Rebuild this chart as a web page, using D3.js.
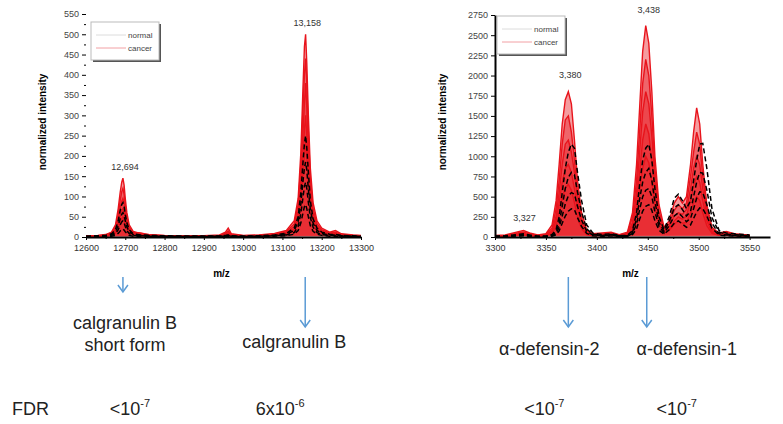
<!DOCTYPE html>
<html>
<head>
<meta charset="utf-8">
<script src="https://cdnjs.cloudflare.com/ajax/libs/d3/7.8.5/d3.min.js"></script>
<style>
	body { margin: 0; background: #fff; }
	text { font-family: "Liberation Sans", Arial, sans-serif; }
</style>
</head>
<body>
<div id="v1"></div>
<script>
// ---- left panel : calgranulin B region ----
var mzLeft = [12600,12630,12650,12665,12675,12682,12687,12691,12694,12697,12700,12704,12710,12720,12740,12760,12800,12850,12900,12940,12955,12962,12970,13000,13040,13080,13110,13130,13140,13147,13152,13156,13159,13162,13166,13171,13178,13188,13200,13220,13235,13250,13280,13300];
var cancerLeft = [
	[3,4,6,12,30,70,110,135,145,128,95,60,30,14,8,6,4,3,3,5,12,22,8,4,5,9,16,40,95,210,360,470,500,430,300,170,85,40,22,12,16,8,5,4],
	[2,3,5,10,24,55,90,112,120,105,78,48,24,11,10,5,3,3,2,4,9,15,6,3,4,7,13,32,80,180,310,400,440,380,260,145,70,33,18,10,12,6,4,3],
	[2,3,4,8,18,42,70,88,95,84,62,38,19,9,6,4,3,2,2,3,7,11,5,3,3,6,11,26,62,150,250,330,380,320,220,120,58,27,15,8,10,5,3,2],
	[1,2,3,6,13,30,52,65,70,62,46,28,14,7,5,3,2,2,2,3,5,8,4,2,3,5,9,20,48,115,200,265,300,250,170,95,45,21,12,7,8,4,2,2],
	[1,2,2,4,9,20,35,45,50,44,32,20,10,5,3,2,2,1,1,2,4,6,3,2,2,4,7,15,35,85,150,200,240,200,130,70,34,16,9,5,6,3,2,1]
];
var normalLeft = [
	[2,3,4,8,18,40,65,80,85,75,55,35,18,8,5,4,3,2,2,3,4,5,3,2,3,5,9,22,50,110,180,230,250,220,160,90,45,22,12,7,6,4,3,2],
	[1,2,3,6,12,28,45,56,60,52,40,25,13,6,4,3,2,2,2,2,3,4,2,2,2,4,7,16,38,82,135,170,185,165,118,68,34,16,9,5,5,3,2,1],
	[1,1,2,4,8,18,30,37,40,35,26,16,8,4,3,2,2,1,1,2,2,3,2,1,2,3,5,11,26,58,95,125,135,120,85,48,24,11,6,4,3,2,1,1],
	[0,1,1,2,4,9,15,18,20,17,13,8,4,2,2,1,1,1,1,1,1,2,1,1,1,2,3,7,16,35,58,75,80,70,50,28,14,7,4,2,2,1,1,0]
];
var xTicksLeft = [12600,12700,12800,12900,13000,13100,13200,13300];
var yTicksLeft = [0,50,100,150,200,250,300,350,400,450,500,550];
var peaksLeft = [{mz: 12694, y: 150, label: "12,694"}, {mz: 13158, y: 505, label: "13,158"}];

// ---- right panel : alpha-defensin region ----
var mzRight = [3300,3310,3318,3324,3328,3334,3342,3350,3356,3360,3363,3366,3369,3372,3375,3378,3381,3385,3390,3396,3405,3414,3422,3430,3435,3439,3442,3445,3448,3451,3454,3457,3461,3466,3471,3476,3480,3484,3488,3492,3495,3498,3501,3504,3508,3513,3520,3527,3535,3545,3550];
var cancerRight = [
	[20,25,50,70,80,50,25,40,150,450,900,1400,1700,1800,1650,1200,700,300,90,40,50,60,30,60,300,900,1600,2300,2620,2400,1800,1000,400,120,200,420,500,420,500,900,1300,1600,1400,900,400,120,50,70,40,30,25],
	[15,20,35,55,60,40,20,30,110,350,700,1150,1450,1500,1300,950,550,230,70,35,40,45,25,45,250,700,1300,1900,2200,2000,1500,850,320,100,160,330,400,350,420,750,1050,1300,1150,750,330,100,40,55,30,25,20],
	[10,15,30,40,45,30,15,25,80,260,550,900,1150,1200,1050,800,450,180,55,25,30,35,20,35,180,550,1050,1550,1800,1650,1250,700,260,80,130,260,300,280,340,600,850,1000,900,600,260,80,30,40,25,20,15],
	[8,10,20,30,35,20,10,20,60,200,420,680,850,900,800,600,350,140,45,20,25,30,15,30,140,420,800,1200,1400,1280,950,540,200,60,100,200,250,220,260,450,640,750,680,450,200,60,25,30,20,15,10],
	[5,8,15,20,25,15,8,15,45,140,300,480,610,650,580,430,250,100,30,15,20,20,10,20,100,300,580,850,1000,920,680,380,150,45,80,160,200,170,180,300,430,500,450,300,140,45,20,25,15,10,8]
];
var normalRight = [
	[10,15,25,35,40,25,10,10,30,90,250,550,850,1050,1150,1100,800,450,150,50,30,40,20,20,80,300,650,950,1100,1150,950,600,250,90,250,480,530,450,350,450,700,950,1150,1160,850,350,80,50,40,30,25],
	[8,10,20,25,30,20,8,8,20,60,170,380,600,740,800,770,560,310,100,35,20,30,15,15,60,220,470,680,800,850,700,440,180,70,190,360,400,340,260,320,500,680,800,790,580,240,60,35,30,20,18],
	[5,8,15,18,20,12,5,5,15,40,120,260,410,510,550,530,380,210,70,25,15,20,10,10,45,160,340,500,580,600,500,310,130,50,140,260,300,250,190,230,350,480,560,550,400,170,40,25,20,15,12],
	[3,5,10,12,15,8,3,3,10,25,75,170,260,320,350,340,240,130,45,15,10,12,8,8,30,100,220,320,380,400,330,200,85,35,90,170,200,160,120,150,230,310,360,350,260,110,25,15,12,10,8]
];
var xTicksRight = [3300,3350,3400,3450,3500,3550];
var yTicksRight = [0,250,500,750,1000,1250,1500,1750,2000,2250,2500,2750];
var peaksRight = [{mz: 3327, y: 120, label: "3,327"}, {mz: 3372, y: 1890, label: "3,380"}, {mz: 3449, y: 2700, label: "3,438"}];

// ---- annotations under the spectra ----
var proteins = [
	{panel: "L", mz: 12694, lines: ["calgranulin B", "short form"], fdr: "<10", exp: "-7"},
	{panel: "L", mz: 13158, lines: ["calgranulin B"], fdr: "6x10", exp: "-6"},
	{panel: "R", mz: 3372, lines: ["\u03b1-defensin-2"], fdr: "<10", exp: "-7"},
	{panel: "R", mz: 3449, lines: ["\u03b1-defensin-1"], fdr: "<10", exp: "-7"}
];
// layout only: where each arrow stops and how far name / FDR sit from the arrow
var arrowEnds = [292, 327, 327, 327];
var nameShift = [2, -11, -19, 40];
var fdrShift = [7, -25, -24, 30];
var nameBase = [329, 348, 355, 355];

var svg = d3.select("#v1").append("svg")
			.attr("width", 783)
			.attr("height", 424);

var xL = d3.scaleLinear().domain([12600, 13300]).range([86, 361]);
var yL = d3.scaleLinear().domain([0, 550]).range([237, 14]);
var xR = d3.scaleLinear().domain([3300, 3570]).range([495, 770]);
var yR = d3.scaleLinear().domain([0, 2750]).range([237, 15]);

function drawSpectra(g, mz, cancer, normal, x, y){
	var line = d3.line()
				 .x(function(d, i){ return x(mz[i]); })
				 .y(function(d){ return y(d); });

	g.selectAll(".cancer")
	 .data(cancer)
	 .enter()
	 .append("path")
	 .attr("class", "cancer")
	 .attr("d", line)
	 .attr("fill", "#e8232a")
	 .attr("fill-opacity", 0.45)
	 .attr("stroke", "#e8141c")
	 .attr("stroke-width", 1.4);

	g.selectAll(".normal")
	 .data(normal)
	 .enter()
	 .append("path")
	 .attr("class", "normal")
	 .attr("d", line)
	 .attr("fill", "none")
	 .attr("stroke", "#000")
	 .attr("stroke-width", 1.5)
	 .attr("stroke-dasharray", "5,3");
}

function drawAxes(g, x, y, xTicks, yTicks, showYLine){
	var xMinor = [];
	for(i = 0; i < xTicks.length - 1; i++){
		xMinor.push((xTicks[i] + xTicks[i+1]) / 2);
	}
	var yMinor = [];
	for(i = 0; i < yTicks.length - 1; i++){
		yMinor.push((yTicks[i] + yTicks[i+1]) / 2);
	}

	var gx = g.append("g")
			  .attr("transform", "translate(0," + y.range()[0] + ")")
			  .call(d3.axisBottom(x).tickValues(xTicks).tickSize(3).tickSizeOuter(0).tickFormat(d3.format("d")));
	gx.select(".domain").attr("stroke-width", 2);
	gx.selectAll("text").attr("font-size", 9).attr("fill", "#333").attr("dy", "0.9em");

	g.append("g")
	 .attr("transform", "translate(0," + y.range()[0] + ")")
	 .call(d3.axisBottom(x).tickValues(xMinor).tickSize(2).tickFormat(""))
	 .select(".domain").remove();

	var gy = g.append("g")
			  .attr("transform", "translate(" + x.range()[0] + ",0)")
			  .call(d3.axisLeft(y).tickValues(yTicks).tickSize(4).tickSizeOuter(0).tickFormat(d3.format("d")));
	if(showYLine){
		gy.select(".domain").attr("stroke-width", 2);
	}
	else{
		gy.select(".domain").remove();
	}
	gy.selectAll("text").attr("font-size", 9).attr("fill", "#444");

	if(!showYLine){
		g.append("g")
		 .attr("transform", "translate(" + x.range()[0] + ",0)")
		 .call(d3.axisLeft(y).tickValues(yMinor).tickSize(2).tickFormat(""))
		 .select(".domain").remove();
	}
}

function drawLegend(g, x0, y0, w, h){
	g.append("rect")
	 .attr("x", x0 + 2).attr("y", y0 + 2)
	 .attr("width", w).attr("height", h)
	 .attr("fill", "#555");
	g.append("rect")
	 .attr("x", x0).attr("y", y0)
	 .attr("width", w).attr("height", h)
	 .attr("fill", "#fff")
	 .attr("stroke", "#bbb");
	var items = [{name: "normal", color: "#dcdcdc"}, {name: "cancer", color: "#f2a0a4"}];
	items.forEach(function(it, i){
		g.append("line")
		 .attr("x1", x0 + 5).attr("x2", x0 + 35)
		 .attr("y1", y0 + 13 + i*13).attr("y2", y0 + 13 + i*13)
		 .attr("stroke", it.color);
		g.append("text")
		 .attr("x", x0 + 37).attr("y", y0 + 16 + i*13)
		 .attr("font-size", 8)
		 .attr("fill", "#444")
		 .text(it.name);
	});
}

function drawPanel(mz, cancer, normal, x, y, xTicks, yTicks, peaks, showYLine, titleX, legendX, legendY){
	var g = svg.append("g");
	drawSpectra(g, mz, cancer, normal, x, y);
	drawAxes(g, x, y, xTicks, yTicks, showYLine);

	g.selectAll(".peak")
	 .data(peaks)
	 .enter()
	 .append("text")
	 .attr("x", function(d){ return x(d.mz) + 2; })
	 .attr("y", function(d){ return y(d.y) - 6; })
	 .attr("text-anchor", "middle")
	 .attr("font-size", 9)
	 .attr("fill", "#333")
	 .text(function(d){ return d.label; });

	g.append("text")
	 .attr("transform", "translate(" + titleX + ",122) rotate(-90)")
	 .attr("text-anchor", "middle")
	 .attr("font-size", 10)
	 .attr("font-weight", "bold")
	 .text("normalized intensity");

	g.append("text")
	 .attr("x", (x.range()[0] + x.range()[1]) / 2 - 2)
	 .attr("y", 277)
	 .attr("text-anchor", "middle")
	 .attr("font-size", 10)
	 .attr("font-weight", "bold")
	 .text("m/z");

	drawLegend(g, legendX, legendY, 68, 38);
}

drawPanel(mzLeft, cancerLeft, normalLeft, xL, yL, xTicksLeft, yTicksLeft, peaksLeft, false, 46, 91, 22);
drawPanel(mzRight, cancerRight, normalRight, xR, yR, xTicksRight, yTicksRight, peaksRight, true, 446, 497, 16);

// arrows, protein names and FDR row
var ann = svg.append("g");
proteins.forEach(function(p, k){
	var px = p.panel === "L" ? xL(p.mz) : xR(p.mz);
	var end = arrowEnds[k];
	ann.append("line")
	   .attr("x1", px).attr("x2", px)
	   .attr("y1", 277).attr("y2", end)
	   .attr("stroke", "#5b9bd5")
	   .attr("stroke-width", 1.5);
	ann.append("path")
	   .attr("d", "M" + (px - 5) + "," + (end - 7) + "L" + px + "," + end + "L" + (px + 5) + "," + (end - 7))
	   .attr("fill", "none")
	   .attr("stroke", "#5b9bd5")
	   .attr("stroke-width", 1.5);

	p.lines.forEach(function(t, j){
		ann.append("text")
		   .attr("x", px + nameShift[k])
		   .attr("y", nameBase[k] + j*22)
		   .attr("text-anchor", "middle")
		   .attr("font-size", 18)
		   .attr("fill", "#222")
		   .text(t);
	});

	var ft = ann.append("text")
				.attr("x", px + fdrShift[k])
				.attr("y", 415)
				.attr("text-anchor", "middle")
				.attr("font-size", 18)
				.attr("fill", "#222");
	ft.append("tspan").text(p.fdr);
	ft.append("tspan").attr("font-size", 11).attr("dy", -8).text(p.exp);
});

ann.append("text")
   .attr("x", 12)
   .attr("y", 415)
   .attr("font-size", 18)
   .attr("fill", "#222")
   .text("FDR");
</script>
</body>
</html>
